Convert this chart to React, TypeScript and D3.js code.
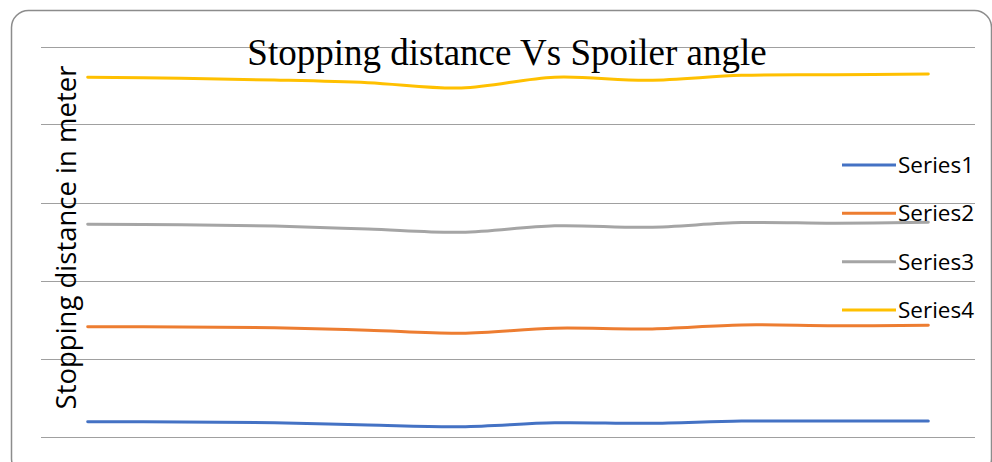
import React from "react";
import * as d3 from "d3";

const categories = ["1", "2", "3", "4", "5", "6", "7", "8", "9", "10"];
const series1 = [0.95, 0.93, 0.88, 0.74, 0.63, 0.88, 0.85, 0.99, 0.99, 0.99];
const series2 = [7.04, 7.02, 6.97, 6.81, 6.62, 6.94, 6.89, 7.15, 7.1, 7.13];
const series3 = [13.6, 13.58, 13.49, 13.3, 13.09, 13.51, 13.41, 13.71, 13.67, 13.73];
const series4 = [23.03, 22.96, 22.85, 22.68, 22.34, 23.03, 22.83, 23.15, 23.19, 23.24];
const seriesNames = ["Series1", "Series2", "Series3", "Series4"];
const seriesColors = ["#4472C4", "#ED7D31", "#A5A5A5", "#FFC000"];
const yTicks = [0, 5, 10, 15, 20, 25];
const title = "Stopping distance Vs Spoiler angle";
const yTitle = "Stopping distance in meter";

export default function App() {
  const W = 992;
  const H = 462;
  const plotLeft = 41;
  const plotRight = 975;
  const plotTop = 46.5;
  const plotBottom = 436.5;

  const x = d3.scaleBand<string>().domain(categories).range([plotLeft, plotRight]).padding(0);
  const y = d3.scaleLinear().domain([0, 25]).range([plotBottom, plotTop]);
  const cx = (c: string) => (x(c) as number) + x.bandwidth() / 2;

  const allSeries = [series1, series2, series3, series4];
  const line = d3
    .line<number>()
    .x((_, i) => cx(categories[i]))
    .y((d) => y(d))
    .curve(d3.curveCardinal.tension(0));

  const legendY = [165, 213.3, 261.7, 310];

  return (
    <svg
      width={W}
      height={H}
      style={{ position: "absolute", left: 0, top: 0, background: "#fff" }}
    >
      <rect
        x={11.5}
        y={10.5}
        width={980}
        height={465}
        rx={17}
        ry={17}
        fill="#fff"
        stroke="#8c8c8c"
        strokeWidth={1.5}
      />
      {yTicks.map((t) => (
        <line
          key={t}
          x1={plotLeft}
          x2={plotRight}
          y1={Math.round(y(t)) + 0.5}
          y2={Math.round(y(t)) + 0.5}
          stroke="#a0a0a0"
          strokeWidth={1}
        />
      ))}
      <text
        x={507}
        y={64.5}
        textAnchor="middle"
        fontFamily="'Liberation Serif', 'Times New Roman', serif"
        fontSize={37}
        fill="#000"
      >
        {title}
      </text>
      <text
        transform="translate(76,237.5) rotate(-90)"
        textAnchor="middle"
        fontFamily="'Open Sans', sans-serif"
        fontSize={27.5}
        fill="#000"
      >
        {yTitle}
      </text>
      {allSeries.map((s, i) => (
        <path
          key={i}
          d={line(s) || ""}
          fill="none"
          stroke={seriesColors[i]}
          strokeWidth={3}
          strokeLinecap="round"
        />
      ))}
      {seriesNames.map((n, i) => (
        <g key={n}>
          <line
            x1={842}
            x2={896}
            y1={legendY[i]}
            y2={legendY[i]}
            stroke={seriesColors[i]}
            strokeWidth={3}
          />
          <text
            x={898}
            y={legendY[i] + 8}
            fontFamily="'Open Sans', sans-serif"
            fontSize={22.5}
            fill="#000"
          >
            {n}
          </text>
        </g>
      ))}
    </svg>
  );
}
